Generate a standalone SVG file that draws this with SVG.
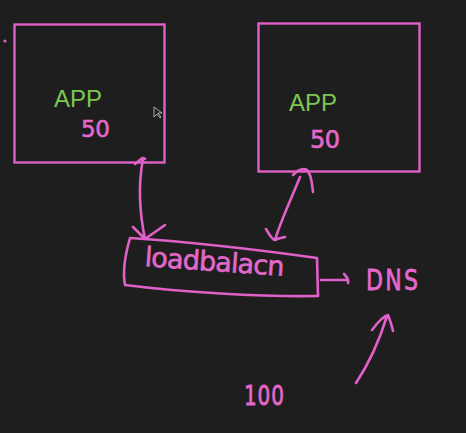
<svg xmlns="http://www.w3.org/2000/svg" width="466" height="433" viewBox="0 0 466 433">
<style>
.ink{fill:none;stroke:#e060c8;stroke-width:2.6;stroke-linecap:round;stroke-linejoin:round}
.box{fill:none;stroke:#e060c8;stroke-width:2.4}
.app{font-family:"Liberation Sans",Arial,sans-serif;font-size:24px;fill:#7cc850}
.hand{font-family:"DejaVu Sans",sans-serif;fill:#e468cc;stroke:#e468cc;stroke-width:0.6}
</style>
<rect width="466" height="433" fill="#1e1e1e"/>
<circle cx="5" cy="41" r="1.6" fill="#e060c8"/>
<g id="app1">
<rect class="box" x="14.5" y="24.5" width="150" height="138"/>
<text class="app" x="54" y="107">APP</text>
<text class="hand" x="81" y="137" font-size="23" textLength="29">50</text>
</g>
<path d="M154 107 L154 117 L157 114 L160 118 L161 117 L158 113 L162 113 Z" fill="#1e1e1e" stroke="#cccccc" stroke-width="0.8"/>
<g id="app2">
<rect class="box" x="258.5" y="23.5" width="161" height="148"/>
<text class="app" x="289" y="111">APP</text>
<text class="hand" x="310" y="148" font-size="24" textLength="30">50</text>
</g>
<g id="loadbalancer">
<path class="ink" d="M130 238 C190 242 260 250 317 258 L318 296 C260 297 180 292 125 285 C122 270 126 252 130 238 Z"/>
<text class="hand" x="144" y="271" font-size="27" textLength="140" transform="rotate(4 214 271)">loadbalacn</text>
</g>
<g id="dns">
<text class="hand" font-size="22" textLength="52" transform="translate(366 290) scale(1 1.3)">DNS</text>
</g>
<g id="lbl100">
<text class="hand" font-size="20" textLength="40" transform="translate(244 405) scale(1 1.3)">100</text>
</g>
<g id="connectors">
<path class="ink" d="M135 164 C140 160 143 156 145 159 M143 159 C138 185 140 215 145 239 M133 227 L145 239 L165 225"/>
<path class="ink" d="M293 175 C298 170 303 168 307 170 C312 175 312 185 313 192 M300 177 C292 197 281 220 275 240 M266 229 C270 236 273 240 275 240 C279 238 282 238 285 237"/>
<path class="ink" d="M321 280 L348 280 M344 274 C347 277 349 280 348 283"/>
<path class="ink" d="M356 383 C368 365 378 345 387 316 M372 330 C378 322 384 316 388 315 C390 320 392 326 393 331"/>
</g>
</svg>
